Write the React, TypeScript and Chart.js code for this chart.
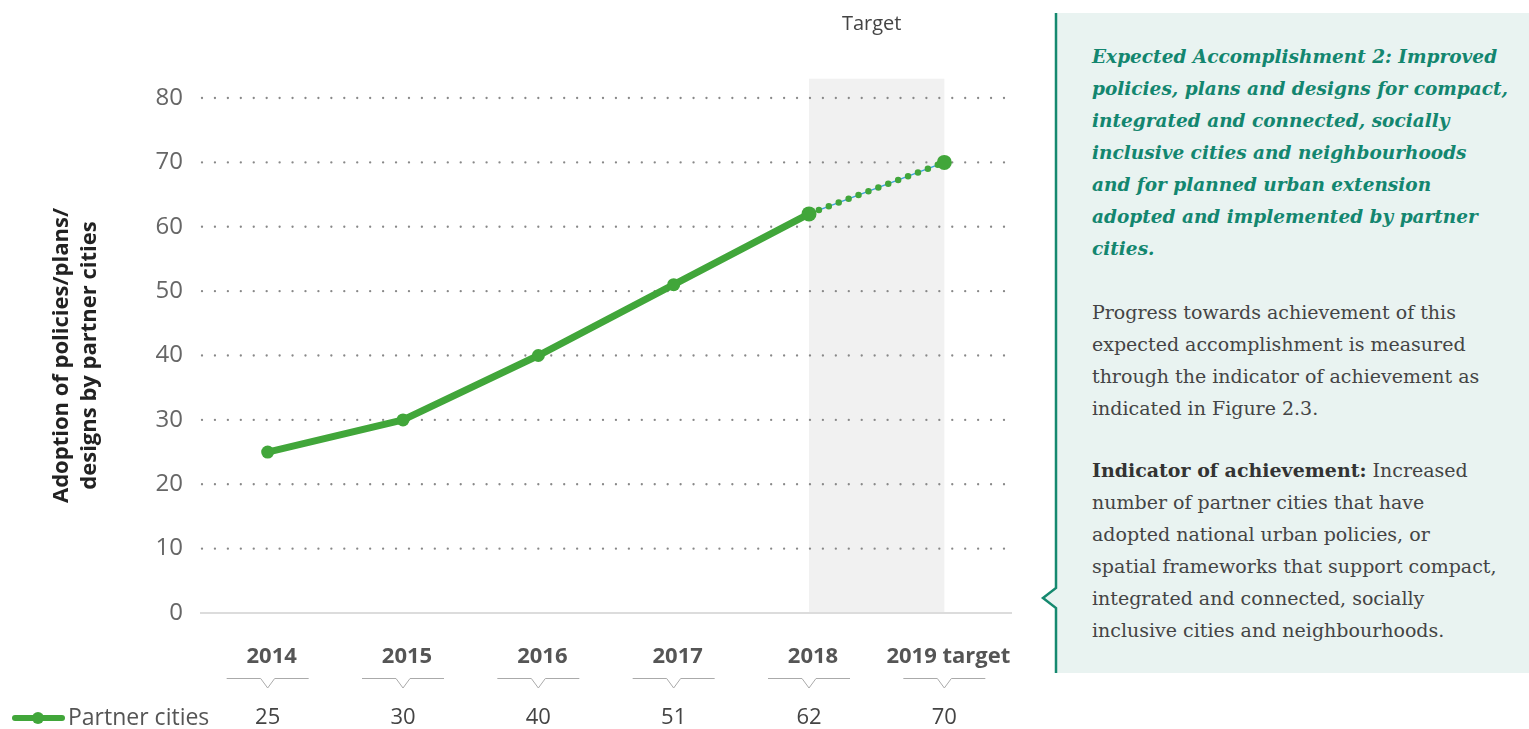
import React, { useEffect, useRef } from "react";
import { Chart, registerables } from "chart.js";

Chart.register(...registerables);

// ---------- data ----------
const categories = ["2014", "2015", "2016", "2017", "2018", "2019 target"];
const partnerCities = [25, 30, 40, 51, 62, 70];
const seriesLabel = "Partner cities";
const yTitleLines = ["Adoption of policies/plans/", "designs by partner cities"];
const yMin = 0;
const yMax = 80;
const yStep = 10;
const targetBandLabel = "Target";
const targetBandFrom = 4; // index of 2018
const targetBandTo = 5; // index of 2019 target
const targetBandTop = 83;
const lastActualIndex = 4;

const headingLines = [
  "Expected Accomplishment 2: Improved",
  "policies, plans and designs for compact,",
  "integrated and connected, socially",
  "inclusive cities and neighbourhoods",
  "and for planned urban extension",
  "adopted and implemented by partner",
  "cities.",
];
const progressLines = [
  "Progress towards achievement of this",
  "expected accomplishment is measured",
  "through the indicator of achievement as",
  "indicated in Figure 2.3.",
];
const indicatorBold = "Indicator of achievement:";
const indicatorLines = [
  " Increased",
  "number of partner cities that have",
  "adopted national urban policies, or",
  "spatial frameworks that support compact,",
  "integrated and connected, socially",
  "inclusive cities and neighbourhoods.",
];

const GREEN = "#41a63a";
const FONT = '"Open Sans", "Noto Sans", sans-serif';

const decorPlugin = {
  id: "decor",
  beforeDatasetsDraw(chart: any) {
    const { ctx, chartArea } = chart;
    const x = chart.scales.x;
    const y = chart.scales.y;
    ctx.save();
    // target band
    const bx0 = x.getPixelForValue(targetBandFrom);
    const bx1 = x.getPixelForValue(targetBandTo);
    const by0 = y.getPixelForValue(targetBandTop);
    const by1 = y.getPixelForValue(0);
    ctx.fillStyle = "#f1f1f1";
    ctx.fillRect(bx0, by0, bx1 - bx0, by1 - by0);
    // dotted grid
    ctx.fillStyle = "#888";
    const left = chartArea.left + 2;
    const right = chartArea.right - 8;
    const n = 62;
    const sp = (right - left) / n;
    for (let v = yStep; v <= yMax; v += yStep) {
      const py = y.getPixelForValue(v);
      for (let i = 0; i <= n; i++) {
        ctx.beginPath();
        ctx.arc(left + i * sp, py, 1.15, 0, Math.PI * 2);
        ctx.fill();
      }
    }
    // zero line
    ctx.strokeStyle = "#dcdcdc";
    ctx.lineWidth = 2;
    const p0 = y.getPixelForValue(0);
    ctx.beginPath();
    ctx.moveTo(chartArea.left, p0);
    ctx.lineTo(chartArea.right, p0);
    ctx.stroke();
    ctx.restore();
  },
  afterDraw(chart: any) {
    const { ctx, chartArea } = chart;
    const x = chart.scales.x;
    ctx.save();
    // Target label
    const bx0 = x.getPixelForValue(targetBandFrom);
    const bx1 = x.getPixelForValue(targetBandTo);
    ctx.fillStyle = "#444";
    ctx.font = `20px ${FONT}`;
    ctx.textAlign = "center";
    ctx.textBaseline = "middle";
    ctx.fillText(targetBandLabel, (bx0 + bx1) / 2 - 5, 24);

    // y title
    ctx.fillStyle = "#222";
    ctx.font = `bold 22px ${FONT}`;
    const cy = (chartArea.top + chartArea.bottom) / 2;
    const xs = [62, 90];
    yTitleLines.forEach((t, i) => {
      ctx.save();
      ctx.translate(xs[i], cy);
      ctx.rotate(-Math.PI / 2);
      ctx.fillText(t, 0, 0);
      ctx.restore();
    });

    // categories, chevrons and values
    categories.forEach((c, i) => {
      const px = x.getPixelForValue(i);
      ctx.fillStyle = "#555";
      ctx.font = `bold 22px ${FONT}`;
      ctx.fillText(c, px + 4, 657);
      ctx.strokeStyle = "#aaa";
      ctx.lineWidth = 1;
      ctx.beginPath();
      ctx.moveTo(px - 41, 678.5);
      ctx.lineTo(px - 7, 678.5);
      ctx.lineTo(px, 688);
      ctx.lineTo(px + 7, 678.5);
      ctx.lineTo(px + 41, 678.5);
      ctx.stroke();
      ctx.fillStyle = "#444";
      ctx.font = `22px ${FONT}`;
      ctx.fillText(String(partnerCities[i]), px, 718);
    });

    // legend
    ctx.strokeStyle = GREEN;
    ctx.lineWidth = 6;
    ctx.lineCap = "round";
    ctx.beginPath();
    ctx.moveTo(15, 718);
    ctx.lineTo(62, 718);
    ctx.stroke();
    ctx.fillStyle = GREEN;
    ctx.beginPath();
    ctx.arc(38, 718, 6, 0, Math.PI * 2);
    ctx.fill();
    ctx.fillStyle = "#555";
    ctx.font = `23px ${FONT}`;
    ctx.textAlign = "left";
    ctx.fillText(seriesLabel, 68, 718);
    ctx.restore();
  },
};

function ChartCanvas() {
  const ref = useRef<HTMLCanvasElement | null>(null);
  useEffect(() => {
    if (!ref.current) return;
    const actual = partnerCities.map((v, i) => (i <= lastActualIndex ? v : null));
    const projected = partnerCities.map((v, i) => (i >= lastActualIndex ? v : null));
    const chart = new Chart(ref.current, {
      type: "line",
      data: {
        labels: categories,
        datasets: [
          {
            label: seriesLabel,
            data: actual,
            borderColor: GREEN,
            backgroundColor: GREEN,
            borderWidth: 7,
            tension: 0,
            pointRadius: actual.map((_, i) => (i === lastActualIndex ? 7.5 : 6.5)),
            pointBorderWidth: 0,
            pointBackgroundColor: GREEN,
            borderCapStyle: "round",
            order: 0,
          },
          {
            label: seriesLabel + " target",
            data: projected,
            borderColor: GREEN,
            backgroundColor: GREEN,
            borderWidth: 6.5,
            borderDash: [0, 10.6],
            borderCapStyle: "round",
            tension: 0,
            pointRadius: projected.map((_, i) => (i === categories.length - 1 ? 7.5 : 0)),
            pointBorderWidth: 0,
            pointBackgroundColor: GREEN,
            order: 1,
          },
          {
            label: seriesLabel + " target line",
            data: projected,
            borderColor: "#3ba3dc",
            borderWidth: 1.5,
            tension: 0,
            pointRadius: 0,
            order: 2,
          },
        ],
      } as any,
      options: {
        animation: false,
        responsive: false,
        maintainAspectRatio: false,
        layout: { padding: { left: 0, right: 28, top: 98, bottom: 0 } },
        plugins: { legend: { display: false }, tooltip: { enabled: false }, title: { display: false } },
        scales: {
          x: {
            type: "category",
            offset: true,
            grid: { display: false },
            border: { display: false },
            ticks: { display: false },
            afterFit: (s: any) => {
              s.height = 116;
            },
          },
          y: {
            min: yMin,
            max: yMax,
            grid: { display: false, drawTicks: false },
            border: { display: false },
            ticks: {
              stepSize: yStep,
              padding: 17,
              color: "#666",
              font: { family: FONT, size: 24 },
            },
            afterFit: (s: any) => {
              s.width = 200;
            },
          },
        },
      } as any,
      plugins: [decorPlugin],
    });
    return () => chart.destroy();
  }, []);
  return (
    <canvas
      ref={ref}
      width={1040}
      height={729}
      style={{ position: "absolute", left: 0, top: 0, width: 1040, height: 729 }}
    />
  );
}

export default function App() {
  const serif = '"DejaVu Serif", "Liberation Serif", serif';
  return (
    <div
      style={{
        position: "absolute",
        left: 0,
        top: 0,
        width: 1529,
        height: 729,
        overflow: "hidden",
        background: "#fff",
      }}
    >
      <ChartCanvas />
      <svg
        width={489}
        height={729}
        style={{ position: "absolute", left: 1040, top: 0 }}
      >
        <polygon
          points="16,13 489,13 489,673 16,673 16,608 3,598 16,588"
          fill="#e9f3f1"
        />
        <polyline
          points="16,13 16,588 3,598 16,608 16,673"
          fill="none"
          stroke="#15896f"
          strokeWidth={2.5}
        />
      </svg>
      <div
        style={{
          position: "absolute",
          left: 1092,
          top: 41,
          fontFamily: serif,
          fontStyle: "italic",
          fontWeight: "bold",
          fontSize: 18.5,
          lineHeight: "32px",
          color: "#13866f",
          whiteSpace: "nowrap",
        }}
      >
        {headingLines.map((l, i) => (
          <div key={i}>{l}</div>
        ))}
      </div>
      <div
        style={{
          position: "absolute",
          left: 1092,
          top: 296,
          fontFamily: serif,
          fontSize: 19,
          lineHeight: "32px",
          color: "#444",
          whiteSpace: "nowrap",
        }}
      >
        {progressLines.map((l, i) => (
          <div key={i}>{l}</div>
        ))}
      </div>
      <div
        style={{
          position: "absolute",
          left: 1092,
          top: 454,
          fontFamily: serif,
          fontSize: 19,
          lineHeight: "32px",
          color: "#444",
          whiteSpace: "nowrap",
        }}
      >
        {indicatorLines.map((l, i) => (
          <div key={i}>
            {i === 0 ? <b style={{ color: "#333" }}>{indicatorBold}</b> : null}
            {l}
          </div>
        ))}
      </div>
    </div>
  );
}
